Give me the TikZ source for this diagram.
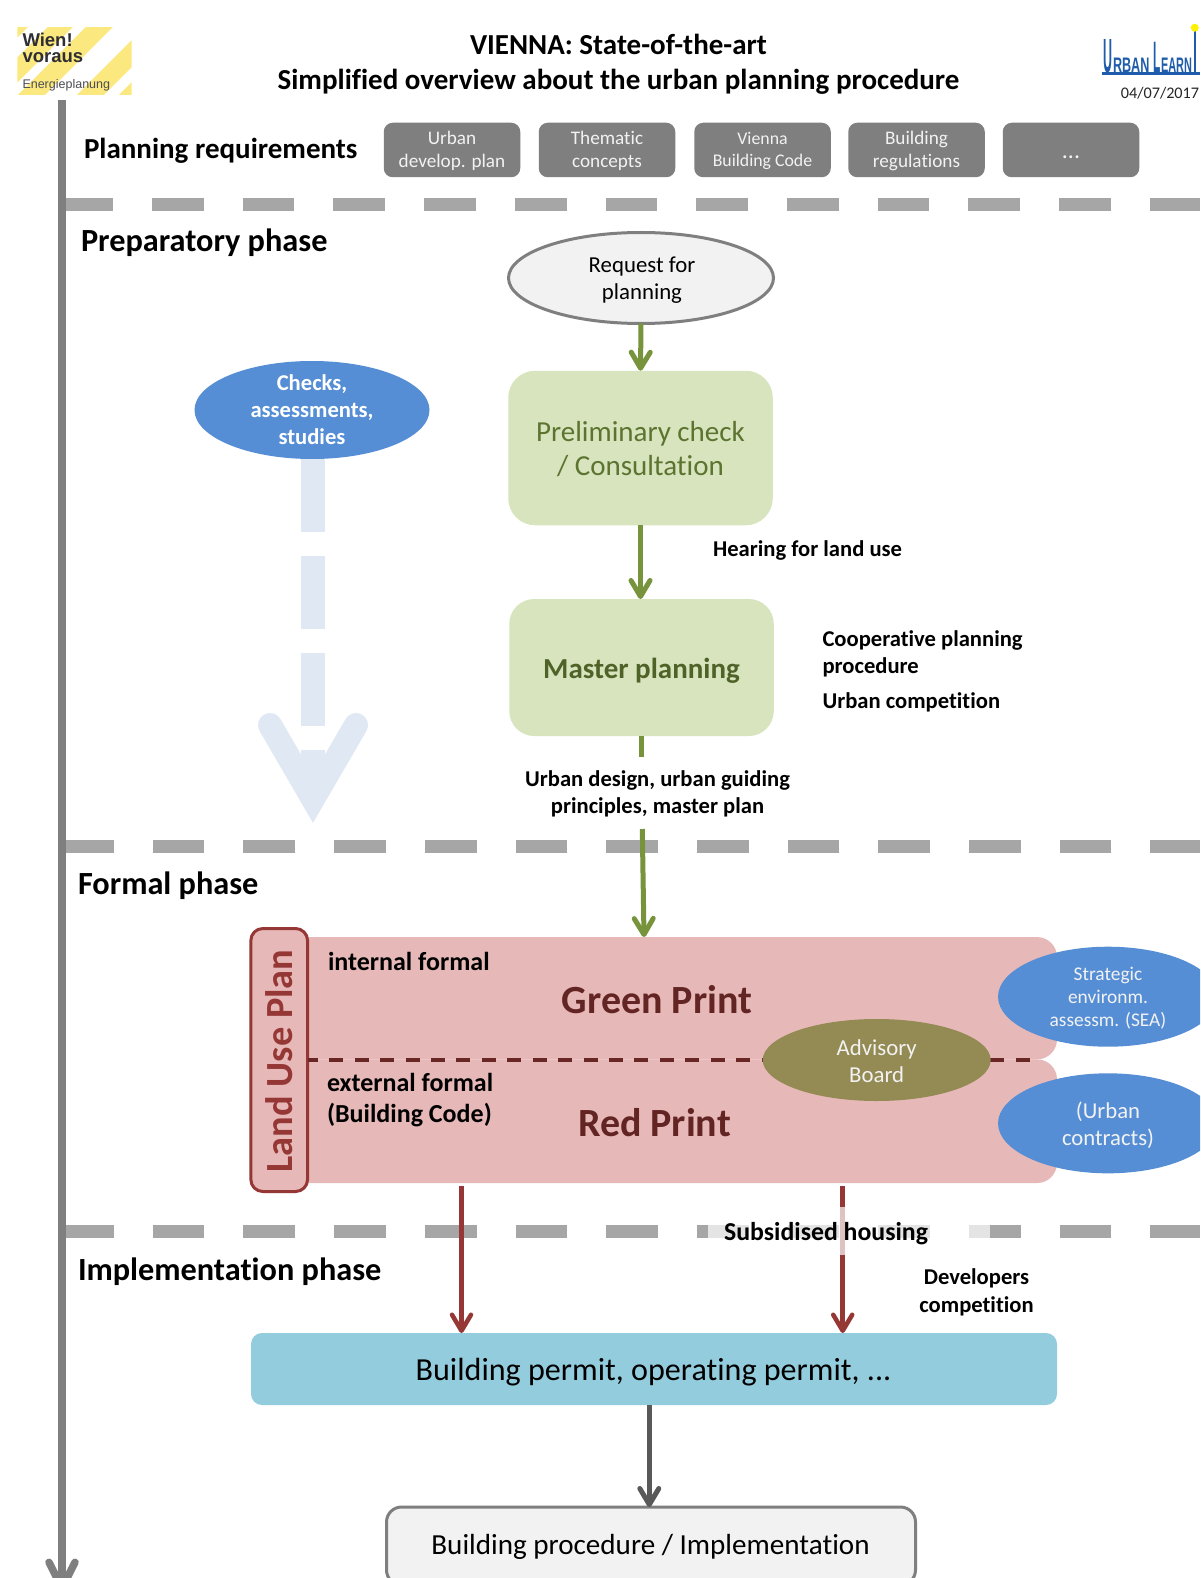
\documentclass[tikz,border=0pt]{standalone}
\usepackage{fontspec}
\setmainfont[Ligatures=NoCommon]{Carlito}
\newfontfamily\logofont{Liberation Sans}
\usetikzlibrary{arrows.meta,shapes.geometric}
\definecolor{axisgrey}{HTML}{7F7F7F}
\definecolor{dashgrey}{HTML}{A6A6A6}
\definecolor{olivegreen}{HTML}{77933C}
\definecolor{palegreen}{HTML}{D7E4BD}
\definecolor{darkgreen}{HTML}{4F6228}
\definecolor{midgreen}{HTML}{5C7430}
\definecolor{paleblue}{HTML}{E0E9F3}
\definecolor{midblue}{HTML}{558ED5}
\definecolor{pinkfill}{HTML}{E6B9B8}
\definecolor{redline}{HTML}{953735}
\definecolor{darkred}{HTML}{632523}
\definecolor{boardfill}{HTML}{948A54}
\definecolor{cyanfill}{HTML}{93CDDD}
\definecolor{lightfill}{HTML}{F2F2F2}
\definecolor{darkarrow}{HTML}{595959}
\definecolor{logoyellow}{HTML}{FBE87F}
\definecolor{logoblue}{HTML}{1F5CAB}
\definecolor{logotext}{HTML}{2E2E33}
\newcommand{\fs}[1]{\fontsize{#1}{#1}\selectfont}
\tikzset{
  base/.style={inner sep=0pt,outer sep=0pt},
  txt/.style={base,align=center,text=black},
  lefttxt/.style={base,align=left,anchor=west,text=black},
  head/.style={lefttxt,font=\fs{32.3}\bfseries},
  lab/.style={txt,font=\fs{22.6}\bfseries},
  greybox/.style={base,rectangle,rounded corners=9pt,fill=axisgrey,minimum width=136.5pt,minimum height=54.5pt},
  greytxt/.style={txt,text=lightfill,font=\fs{19.2}},
  sep/.style={dashgrey,line width=13pt,dash pattern=on 51.7pt off 39pt},
  bluell/.style={base,ellipse,fill=midblue,minimum width=220pt,minimum height=100pt},
  wt/.style={txt,text=lightfill},
  garrow/.style={olivegreen,line width=5pt,-{Straight Barb[length=16pt,width=19pt,line width=5pt,round]}},
  rarrow/.style={redline,line width=4.5pt,-{Straight Barb[length=16pt,width=19pt,line width=4.5pt,round]}},
  karrow/.style={darkarrow,line width=5pt,-{Straight Barb[length=16pt,width=19pt,line width=5pt,round]}},
  aarrow/.style={axisgrey,line width=7.5pt,-{Straight Barb[length=26pt,width=26pt,line width=7.5pt,round]}},
}
\begin{document}
\begin{tikzpicture}[x=1pt,y=-1pt]
\useasboundingbox (0,0) rectangle (1200,1578);
\clip (0,0) rectangle (1200,1578);
\fill[white] (0,0) rectangle (1200,1578);

% Wien logo
\begin{scope}
\clip (17.3,27.3) rectangle (131.7,95);
\fill[logoyellow] (17,27) -- (28,27) -- (17,38) -- cycle;
\fill[logoyellow] (48,27) -- (73,27) -- (5,95) -- (-20,95) -- cycle;
\fill[logoyellow] (86,27) -- (113,27) -- (45,95) -- (18,95) -- cycle;
\fill[logoyellow] (145,27) -- (172,27) -- (104,95) -- (77,95) -- cycle;
\fill[logoyellow] (187,27) -- (225,27) -- (157,95) -- (119,95) -- cycle;
\end{scope}
\node[base,anchor=west,logotext,align=left,font=\logofont\bfseries\fontsize{18.5}{16}\selectfont] (wien) at (22.5,48) {Wien!\\voraus};
\node[base,anchor=west,logotext!85!white] (energie) at (22.5,85.5) {\logofont\fs{12.5}Energieplanung};

% Urban Learning logo
\draw[logoblue,line width=3pt] (1102,73.5) -- (1200,73.5);
\draw[logoblue,line width=2pt] (1194.5,28) -- (1194.5,72);
\fill[yellow] (1194.7,27.7) circle (4);
\node[base,anchor=south west,logoblue,xscale=.26] (lu) at (1103.5,73) {\logofont\bfseries\fs{48}U};
\node[base,anchor=south west,logoblue,xscale=.6] (lrban) at (1113,73) {\logofont\bfseries\fs{21}RBAN};
\node[base,anchor=south west,logoblue,xscale=.27] (ll) at (1153.5,73) {\logofont\bfseries\fs{44}L};
\node[base,anchor=south west,logoblue,xscale=.52] (learn) at (1161,73) {\logofont\bfseries\fs{21}EARN};
\node[txt,text=black!85] (date) at (1160,93.5) {\fs{16.2}04/07/2017};

% Title
\node[txt,font=\fs{29}\bfseries] (title1) at (618.5,44) {VIENNA: State-of-the-art};
\node[txt,font=\fs{29}\bfseries] (title2) at (618.5,82) {Simplified overview about the urban planning procedure};

% Section headings
\node[head,font=\fs{29}\bfseries] (plreq) at (84,151) {Planning requirements};
\node[head] (prep) at (81,243) {Preparatory phase};
\node[head] (formal) at (78,886) {Formal phase};
\node[head] (impl) at (78,1272) {Implementation phase};

% Grey boxes
\node[greybox] (b1) at (452,150) {};
\node[greybox] (b2) at (607,150) {};
\node[greybox] (b3) at (762.5,150) {};
\node[greybox] (b4) at (916.5,150) {};
\node[greybox] (b5) at (1071,150) {};
\node[greytxt] (b1t) at (452,151) {Urban\\[3.5pt]develop. plan};
\node[greytxt] (b2t) at (607,151) {Thematic\\[3.5pt]concepts};
\node[greytxt,font=\fs{17.8}] (b3t) at (762.5,151) {Vienna\\[5pt]Building Code};
\node[greytxt] (b4t) at (916.5,151) {Building\\[3.5pt]regulations};
\node[greytxt,font=\fs{24},anchor=base] (b5t) at (1071,158.5) {...};

% Separators
\draw[sep] (61.3,204.5) -- (1200,204.5);
\draw[sep] (62,846) -- (1200,846);
\draw[sep] (62,1231.5) -- (1200,1231.5);

% Axis
\coordinate (axtop) at (62,100);
\coordinate (axend) at (62,1592);
\draw[aarrow] (axtop) -- (axend);

% Pale arrow
\node[base,ellipse,fill=midblue,minimum width=235pt,minimum height=98pt] (checks) at (312,410) {};
\node[wt,font=\fs{22.6}\bfseries,text=white] (checkst) at (312,410) {Checks,\\[4.5pt]assessments,\\[4.5pt]studies};
\coordinate (palea) at (313,459);
\coordinate (paleb) at (313,800);
\draw[paleblue,line width=24pt,dash pattern=on 72.5pt off 24.5pt] (palea) -- (paleb);
\draw[paleblue,line width=24pt,line cap=round,line join=miter,miter limit=10] (270,725) -- (313,799) -- (356,725);

% Preparatory flow
\node[base,ellipse,draw=axisgrey,line width=3pt,fill=lightfill,minimum width=265pt,minimum height=91pt] (req) at (641,278) {};
\node[txt,font=\fs{22.8}] (reqt) at (642,280) {Request for\\[4.5pt]planning};
\node[base,rectangle,rounded corners=27pt,fill=palegreen,minimum width=264.5pt,minimum height=154.5pt] (prelim) at (640.5,448) {};
\node[txt,text=midgreen,font=\fs{29}] (prelimt) at (640.5,449.5) {Preliminary check\\[5pt]/ Consultation};
\node[base,rectangle,rounded corners=25pt,fill=palegreen,minimum width=264.5pt,minimum height=137pt] (master) at (641.5,667.5) {};
\node[txt,text=darkgreen,font=\fs{29}\bfseries] (mastert) at (641.5,670.5) {Master planning};
\draw[garrow] (req.south) -- (prelim.north);
\draw[garrow] (prelim.south) -- (prelim.south |- master.north);
\coordinate (stubend) at (641.5,757);
\coordinate (gtop) at (642.3,829);
\coordinate (gend) at (644,937);
\draw[olivegreen,line width=5pt] (master.south) -- (stubend);
\draw[garrow] (gtop) -- (gend);

\node[lefttxt,font=\fs{22.6}\bfseries] (hearing) at (713,550.5) {Hearing for land use};
\node[lefttxt,font=\fs{22.6}\bfseries] (coop) at (822.5,654) {Cooperative planning\\[4.5pt]procedure};
\node[lefttxt,font=\fs{22.6}\bfseries] (compet) at (822.5,702.5) {Urban competition};
\node[lab] (design) at (657.5,793.5) {Urban design, urban guiding\\[4.5pt]principles, master plan};

% Formal phase
\node[base,rectangle,rounded corners=20pt,fill=pinkfill,minimum width=790pt,minimum height=122.3pt] (green) at (662,998.2) {};
\node[base,rectangle,rounded corners=20pt,fill=pinkfill,minimum width=790pt,minimum height=123.7pt] (red) at (662,1121.2) {};
\node[base,rectangle,rounded corners=12pt,draw=redline,line width=3pt,fill=pinkfill,minimum width=56.7pt,minimum height=263pt] (lup) at (279.2,1060) {};
\node[base,rotate=90,text=redline,font=\fs{38.4}\bfseries] (lupt) at (279.5,1061) {Land Use Plan};
\coordinate (dashend) at (1032,1059.8);
\draw[darkred!90!redline,line width=4pt,dash pattern=on 14pt off 11.43pt,dash phase=3.7pt] (lup.east |- dashend) -- (dashend);
\node[base,ellipse,fill=boardfill,minimum width=228pt,minimum height=82pt] (board) at (876.7,1060) {};
\node[wt,font=\fs{22.8}] (boardt) at (876.7,1061) {Advisory\\[4.5pt]Board};
\node[bluell] (sea) at (1108,996.7) {};
\node[wt,font=\fs{19.4}] (seat) at (1108,998) {Strategic\\[3.5pt]environm.\\[3.5pt]assessm. (SEA)};
\node[bluell] (contr) at (1108,1123.3) {};
\node[wt,font=\fs{22.7}] (contrt) at (1108,1125.5) {(Urban\\[4.5pt]contracts)};
\node[txt,text=darkred,font=\fs{40}\bfseries] (gp) at (657,1000) {Green Print};
\node[txt,text=darkred,font=\fs{40}\bfseries] (rp) at (654.5,1123) {Red Print};
\node[lefttxt,font=\fs{26}\bfseries] (intern) at (328,961) {internal formal};
\node[lefttxt,font=\fs{26}\bfseries] (extern) at (327,1100) {external formal\\[5pt](Building Code)};

% Implementation
\node[base,rectangle,rounded corners=11pt,fill=cyanfill,minimum width=806pt,minimum height=72pt] (permit) at (654,1369) {};
\node[txt,font=\fs{32.1}] (permitt) at (653.5,1372) {Building permit, operating permit, ...};
\node[base,rectangle,rounded corners=15pt,draw=axisgrey,line width=3pt,fill=lightfill,minimum width=529pt,minimum height=78pt] (impbox) at (651,1546) {};
\node[txt,font=\fs{29.1}] (impt) at (650.5,1547) {Building procedure / Implementation};
\coordinate (r1top) at (461.5,1186);
\coordinate (r2top) at (842.7,1186);
\coordinate (karrowx) at (649.3,1400);
\draw[rarrow] (r1top) -- (r1top |- permit.north);
\draw[rarrow] (r2top) -- (r2top |- permit.north);
\draw[karrow] (karrowx |- permit.south) -- (karrowx |- impbox.north);
\fill[white,opacity=.7] (707.5,1207) rectangle (990,1255);
\node[lab,font=\fs{25.8}\bfseries] (subs) at (826,1234) {Subsidised housing};
\node[lab] (devs) at (976.5,1292.5) {Developers\\[5pt]competition};
\end{tikzpicture}
\end{document}
